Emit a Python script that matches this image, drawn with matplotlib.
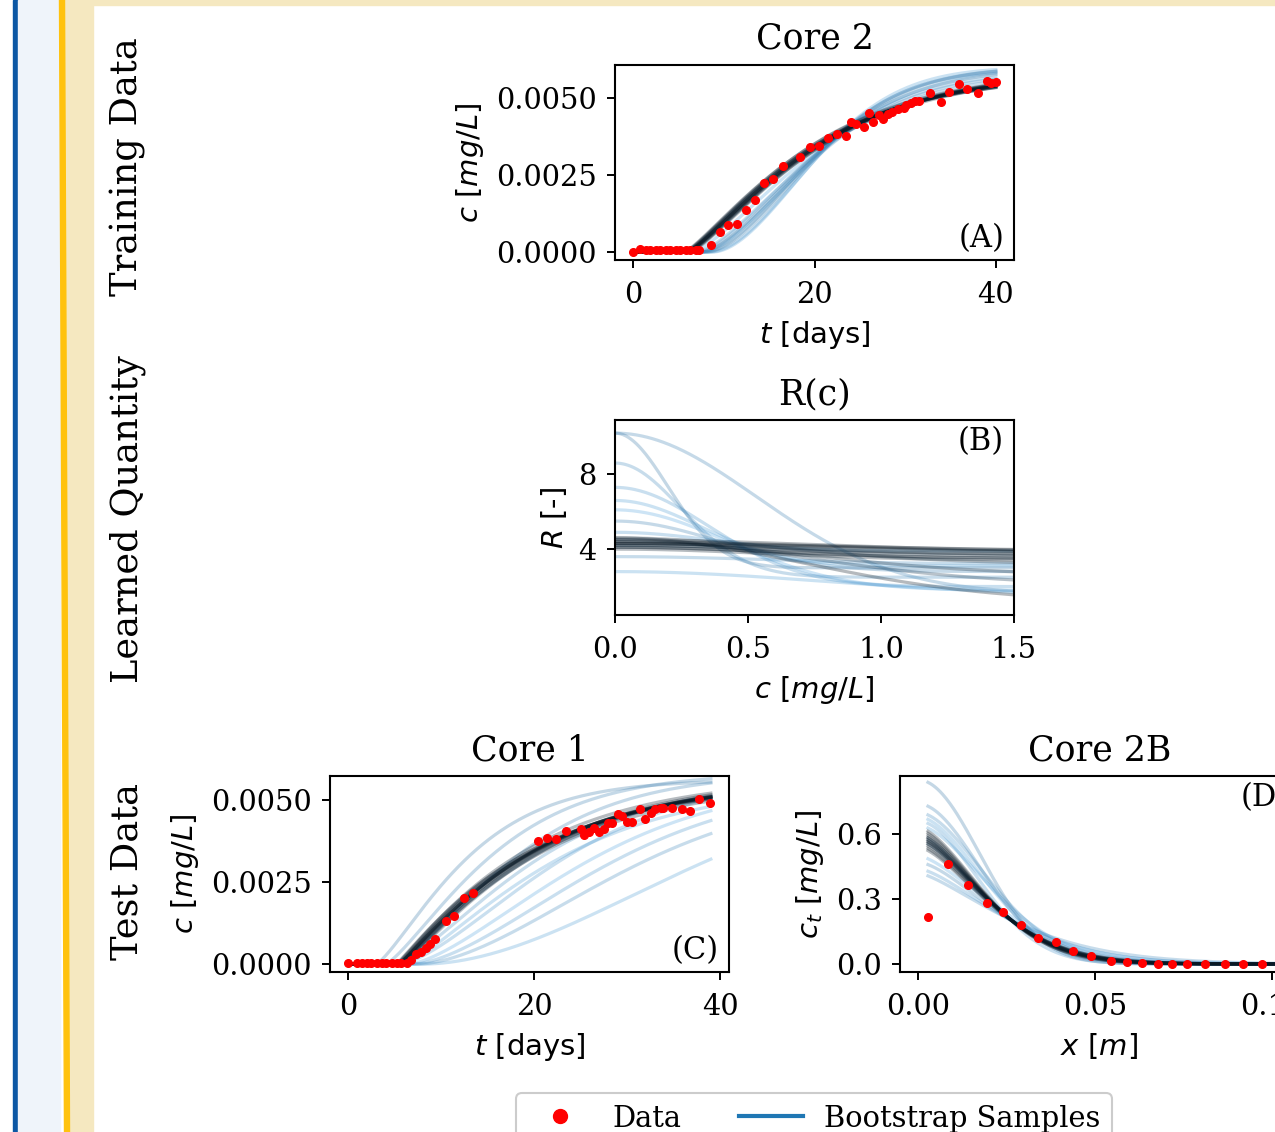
import numpy as np
import matplotlib
matplotlib.use("Agg")
import matplotlib.pyplot as plt
from matplotlib.colors import LinearSegmentedColormap
from matplotlib.lines import Line2D
from matplotlib.patches import Rectangle, Polygon

plt.rcParams['font.family'] = 'DejaVu Serif'
plt.rcParams['mathtext.fontset'] = 'dejavusans'

W, H = 1275, 1132

# ---------------- data ----------------
# Core 2 (training data)
t_core2 = [0.0, 0.8, 1.4, 1.9, 2.5, 3.0, 3.6, 4.1, 4.7, 5.2, 5.8, 6.3, 6.9, 7.3,
           8.6, 9.6, 10.5, 11.4, 12.4, 13.4, 14.4, 15.4, 16.5, 18.4, 19.5, 20.5,
           21.5, 22.5, 23.5, 24.0, 24.6, 25.5, 26.0, 26.5, 27.1, 27.6, 28.1, 28.6,
           29.2, 29.9, 30.1, 30.6, 31.1, 31.5, 32.7, 33.9, 34.8, 35.9, 36.8, 38.0,
           39.0, 39.5, 40.0]
c_core2 = [0.00001, 0.00010, 0.00006, 0.00006, 0.00006, 0.00007, 0.00005, 0.00005,
           0.00005, 0.00005, 0.00005, 0.00005, 0.00005, 0.00008,
           0.00023, 0.00066, 0.00088, 0.00092, 0.00136, 0.00169, 0.00225, 0.00236,
           0.00279, 0.00309, 0.00341, 0.00343, 0.00371, 0.00382, 0.00377, 0.00421,
           0.00416, 0.00405, 0.00450, 0.00422, 0.00445, 0.00431, 0.00448, 0.00454,
           0.00463, 0.00467, 0.00477, 0.00483, 0.00491, 0.00491, 0.00515, 0.00486,
           0.00520, 0.00544, 0.00529, 0.00517, 0.00555, 0.00550, 0.00553]

# Core 1 (test data)
t_core1 = [0.0, 1.0, 1.5, 2.0, 2.5, 3.1, 3.6, 4.1, 4.7, 5.2, 5.7, 6.3, 6.8, 7.35,
           7.8, 8.35, 8.85, 9.3, 10.5, 11.4, 12.5, 13.4, 20.4, 21.4, 22.4, 23.45,
           25.0, 25.4, 25.9, 26.4, 26.95, 27.5, 27.95, 28.4, 29.0, 29.45, 30.0,
           30.5, 31.4, 31.9, 32.6, 33.0, 33.6, 33.9, 34.8, 35.9, 36.8, 37.7, 38.9]
c_core1 = [0.00002, 0.00004, 0.00004, 0.00004, 0.00004, 0.00004, 0.00004, 0.00004,
           0.00004, 0.00004, 0.00004, 0.00004, 0.00014, 0.00030, 0.00038, 0.00050,
           0.00060, 0.00078, 0.00131, 0.00146, 0.00200, 0.00216, 0.00376, 0.00384,
           0.00380, 0.00405, 0.00411, 0.00393, 0.00402, 0.00414, 0.00402, 0.00411,
           0.00429, 0.00429, 0.00456, 0.00450, 0.00432, 0.00432, 0.00473, 0.00441,
           0.00459, 0.00474, 0.00476, 0.00477, 0.00477, 0.00473, 0.00466, 0.00503,
           0.00490]

# Core 2B (test data, profile)
x_core2b = [0.0028, 0.0085, 0.0141, 0.0195, 0.0240, 0.0290, 0.0340, 0.0390, 0.0438,
            0.0489, 0.0545, 0.0590, 0.0633, 0.0678, 0.0718, 0.0760, 0.0810, 0.0867,
            0.0918, 0.0972, 0.1022]
ct_core2b = [0.218, 0.461, 0.364, 0.283, 0.240, 0.181, 0.119, 0.103, 0.060, 0.037,
             0.015, 0.009, 0.004, 0.002, 0.001, 0.001, 0.0, 0.0, 0.0, 0.0, 0.0]

# bootstrap samples: fit score (0 = best fit / dark, 1 = poor fit / light)
score = [0.0, 0.05, 0.1, 0.0, 0.15, 0.2, 0.05, 0.1, 0.2, 0.25, 0.3, 0.15, 0.1, 0.05,
         0.75, 0.8, 0.85, 0.9, 0.95, 1.0, 0.8, 0.9, 0.85, 0.95]

# (A) breakthrough curves, Core 2
a_cmax = [0.0058, 0.00575, 0.00585, 0.0058, 0.0057, 0.0059, 0.00578, 0.00582,
          0.00588, 0.00572, 0.0058, 0.00576, 0.00584, 0.0058,
          0.00595, 0.0060, 0.0058, 0.0059, 0.0060, 0.0057, 0.0060, 0.0059, 0.0058, 0.0060]
a_lag = [6.0, 5.8, 6.2, 6.1, 5.9, 6.3, 6.0, 5.7, 6.1, 5.9, 6.0, 6.2, 5.8, 6.0,
         7.5, 8.0, 7.0, 8.5, 7.8, 6.5, 8.2, 7.2, 7.6, 8.8]
a_tau = [15.5, 15.2, 15.8, 15.6, 15.0, 16.0, 15.4, 15.3, 15.9, 15.1, 15.5, 15.7, 15.2, 15.6,
         15.0, 14.5, 15.5, 14.0, 15.0, 15.5, 14.5, 15.2, 15.0, 13.8]
a_k = [1.24, 1.22, 1.26, 1.25, 1.23, 1.27, 1.24, 1.21, 1.25, 1.23, 1.24, 1.26, 1.22, 1.24,
       1.6, 1.7, 1.5, 1.8, 1.6, 1.4, 1.7, 1.55, 1.6, 1.8]

# (B) learned retardation R(c)
b_r0 = [4.3, 4.5, 4.1, 4.4, 4.2, 4.6, 4.3, 4.0, 4.4, 4.2, 4.5, 4.3, 4.1, 4.6,
        10.2, 10.2, 8.6, 7.3, 6.6, 6.1, 5.5, 4.9, 3.6, 2.8]
b_rinf = [3.7, 3.9, 3.5, 3.8, 3.6, 3.2, 3.9, 3.4, 2.6, 3.7, 2.1, 3.8, 3.5, 1.2,
          3.0, 1.6, 2.5, 2.0, 3.1, 1.8, 2.8, 3.9, 3.2, 1.5]
b_s = [0.9, 1.0, 0.8, 1.1, 0.9, 0.9, 1.2, 0.8, 1.0, 0.9, 1.0, 1.1, 0.85, 1.0,
       0.28, 0.75, 0.35, 0.5, 0.45, 0.6, 0.55, 0.5, 0.8, 1.1]

# (C) breakthrough curves, Core 1
c_cmax = [0.0056, 0.0055, 0.0057, 0.0056, 0.00555, 0.00565, 0.0056, 0.0055, 0.0057,
          0.0056, 0.0056, 0.0055, 0.0057, 0.0056,
          0.0056, 0.0058, 0.0055, 0.0057, 0.0054, 0.0056, 0.0058, 0.0055, 0.0053, 0.0056]
c_lag = [5.5, 5.3, 5.7, 5.5, 5.4, 5.8, 5.6, 5.2, 5.9, 5.5, 5.5, 5.7, 5.3, 5.6,
         3.0, 4.0, 5.0, 5.5, 6.0, 6.5, 5.0, 7.0, 7.5, 8.0]
c_tau = [15.0, 14.5, 15.5, 15.2, 14.8, 15.8, 15.0, 14.6, 16.0, 15.3, 15.1, 15.6, 14.7, 15.4,
         11.0, 13.0, 17.0, 20.0, 18.0, 22.0, 15.0, 24.0, 26.0, 33.9]
c_k = [1.1, 1.08, 1.12, 1.1, 1.09, 1.13, 1.1, 1.07, 1.14, 1.1, 1.1, 1.12, 1.08, 1.11,
       1.29, 1.3, 1.4, 1.5, 1.3, 1.5, 1.35, 1.6, 1.7, 1.87]

# (D) concentration profiles, Core 2B
d_amp = [0.58, 0.60, 0.56, 0.62, 0.57, 0.59, 0.55, 0.61, 0.58, 0.60, 0.57, 0.59, 0.54, 0.63,
         0.85, 0.74, 0.70, 0.66, 0.64, 0.50, 0.47, 0.44, 0.42, 0.68]
d_s = [0.0256, 0.025, 0.026, 0.0245, 0.0258, 0.0252, 0.0262, 0.0248, 0.0255, 0.0251,
       0.0259, 0.0253, 0.0265, 0.0244,
       0.0243, 0.025, 0.027, 0.024, 0.028, 0.030, 0.029, 0.031, 0.033, 0.026]
d_p = [1.6, 1.62, 1.58, 1.65, 1.6, 1.6, 1.55, 1.63, 1.6, 1.61, 1.59, 1.6, 1.55, 1.66,
       2.0, 1.9, 1.8, 1.9, 1.7, 1.5, 1.6, 1.5, 1.4, 1.8]


def breakthrough(t, cmax, lag, tau, k):
    z = np.clip(t - lag, 0, None) / tau
    return cmax * (1 - np.exp(-z ** k))


def retardation(c, r0, rinf, s):
    return rinf + (r0 - rinf) * np.exp(-(c / s) ** 2)


def profile(x, amp, s, p):
    return amp * np.exp(-(x / s) ** p)


cmap = LinearSegmentedColormap.from_list(
    'boot', ['#08151f', '#1f4e73', '#5aa8e0'])
order = np.argsort(score)[::-1]   # light curves first, dark on top


def fig_rect(x0, y0, x1, y1):
    return [x0 / W, 1 - y1 / H, (x1 - x0) / W, (y1 - y0) / H]


fig = plt.figure(figsize=(W / 100, H / 100), dpi=100)

# poster background around the figure
fig.patches.append(Rectangle((13 / W, 0), 4.5 / W, 1, transform=fig.transFigure,
                             color='#0b57a4', zorder=0))
fig.patches.append(Rectangle((17.5 / W, 0), 43 / W, 1, transform=fig.transFigure,
                             color='#eff4fa', zorder=0))
fig.patches.append(Polygon([(64 / W, 1), (93 / W, 1), (93 / W, 0), (70 / W, 0)],
                           transform=fig.transFigure, color='#f5e8c0', zorder=0))
fig.patches.append(Rectangle((93 / W, 1 - 4.5 / H), 1, 4.5 / H, transform=fig.transFigure,
                             color='#f5e8c0', zorder=0))
fig.patches.append(Polygon([(59.5 / W, 1), (64.5 / W, 1), (69.5 / W, 0), (64.5 / W, 0)],
                           transform=fig.transFigure, color='#ffc20e', zorder=1))

axA = fig.add_axes(fig_rect(615, 65, 1014, 260))
axB = fig.add_axes(fig_rect(615, 420, 1014, 615))
axC = fig.add_axes(fig_rect(330, 776, 729, 972))
axD = fig.add_axes(fig_rect(900, 776, 1299, 972))

lw, alpha = 2.3, 0.3
ms = 5.5

t_grid = np.linspace(0, 40, 300)
for i in order:
    axA.plot(t_grid, breakthrough(t_grid, a_cmax[i], a_lag[i], a_tau[i], a_k[i]),
             color=cmap(score[i]), lw=lw, alpha=alpha)
axA.plot(t_core2, c_core2, 'o', color='red', ms=ms, zorder=5)

c_grid = np.linspace(0, 1.5, 300)
for i in order:
    axB.plot(c_grid, retardation(c_grid, b_r0[i], b_rinf[i], b_s[i]),
             color=cmap(score[i]), lw=lw, alpha=alpha)

t_grid1 = np.linspace(0, 39, 300)
for i in order:
    axC.plot(t_grid1, breakthrough(t_grid1, c_cmax[i], c_lag[i], c_tau[i], c_k[i]),
             color=cmap(score[i]), lw=lw, alpha=alpha)
axC.plot(t_core1, c_core1, 'o', color='red', ms=ms, zorder=5)

x_grid = np.linspace(0.0028, 0.105, 300)
for i in order:
    axD.plot(x_grid, profile(x_grid, d_amp[i], d_s[i], d_p[i]),
             color=cmap(score[i]), lw=lw, alpha=alpha)
axD.plot(x_core2b, ct_core2b, 'o', color='red', ms=ms, zorder=5)

# limits & ticks
axA.set_xlim(-2, 42)
axA.set_ylim(-0.00026, 0.00607)
axA.set_xticks([0, 20, 40])
axA.set_yticks([0, 0.0025, 0.005])
axA.set_yticklabels(['0.0000', '0.0025', '0.0050'])

axB.set_xlim(0, 1.5)
axB.set_ylim(0.48, 10.9)
axB.set_xticks([0, 0.5, 1.0, 1.5])
axB.set_xticklabels(['0.0', '0.5', '1.0', '1.5'])
axB.set_yticks([4, 8])

axC.set_xlim(-1.95, 40.95)
axC.set_ylim(-0.00024, 0.00573)
axC.set_xticks([0, 20, 40])
axC.set_yticks([0, 0.0025, 0.005])
axC.set_yticklabels(['0.0000', '0.0025', '0.0050'])

axD.set_xlim(-0.0051, 0.1076)
axD.set_ylim(-0.037, 0.868)
axD.set_xticks([0, 0.05, 0.1])
axD.set_xticklabels(['0.00', '0.05', '0.10'])
axD.set_yticks([0, 0.3, 0.6])
axD.set_yticklabels(['0.0', '0.3', '0.6'])

lab = dict(fontsize=21, family='DejaVu Sans', labelpad=7)
axA.set_xlabel(r'$t$ [days]', **lab)
axA.set_ylabel(r'$c\ [mg/L]$', **lab)
axB.set_xlabel(r'$c\ [mg/L]$', **lab)
axB.set_ylabel(r'$R$ [-]', **lab)
axC.set_xlabel(r'$t$ [days]', **lab)
axC.set_ylabel(r'$c\ [mg/L]$', **lab)
axD.set_xlabel(r'$x\ [m]$', **lab)
axD.set_ylabel(r'$c_t\ [mg/L]$', **lab)

axA.set_title('Core 2', fontsize=25, pad=12)
axB.set_title('R(c)', fontsize=25, pad=11)
axC.set_title('Core 1', fontsize=25, pad=11)
axD.set_title('Core 2B', fontsize=25, pad=11)

axA.text(0.975, 0.03, '(A)', transform=axA.transAxes, ha='right', va='bottom', fontsize=22)
axB.text(0.975, 0.97, '(B)', transform=axB.transAxes, ha='right', va='top', fontsize=22)
axC.text(0.975, 0.03, '(C)', transform=axC.transAxes, ha='right', va='bottom', fontsize=22)
axD.text(0.975, 0.97, '(D)', transform=axD.transAxes, ha='right', va='top', fontsize=22)

for ax in (axA, axB, axC, axD):
    ax.tick_params(labelsize=20.8, length=6, width=1.4)
    ax.tick_params(axis='x', pad=9)
    ax.tick_params(axis='y', pad=7)
    for sp in ax.spines.values():
        sp.set_linewidth(1.5)

fig.text(128 / W, 1 - 167 / H, 'Training Data', rotation=90, ha='center', va='center', fontsize=26.5)
fig.text(128 / W, 1 - 519 / H, 'Learned Quantity', rotation=90, ha='center', va='center', fontsize=26.5)
fig.text(128 / W, 1 - 871 / H, 'Test Data', rotation=90, ha='center', va='center', fontsize=26.5)

handles = [Line2D([], [], marker='o', ls='none', color='red', ms=10),
           Line2D([], [], color='#1f77b4', lw=3)]
leg = fig.legend(handles, ['Data', 'Bootstrap Samples'], loc='upper center', ncol=2,
                 bbox_to_anchor=(814 / W, 1 - 1093 / H), fontsize=20.8, borderaxespad=0,
                 handlelength=2.2, handletextpad=0.73, columnspacing=2.0, framealpha=1)
leg.get_frame().set_edgecolor('#cccccc')
leg.get_frame().set_linewidth(1.5)

fig.savefig('out.png', dpi=100)
